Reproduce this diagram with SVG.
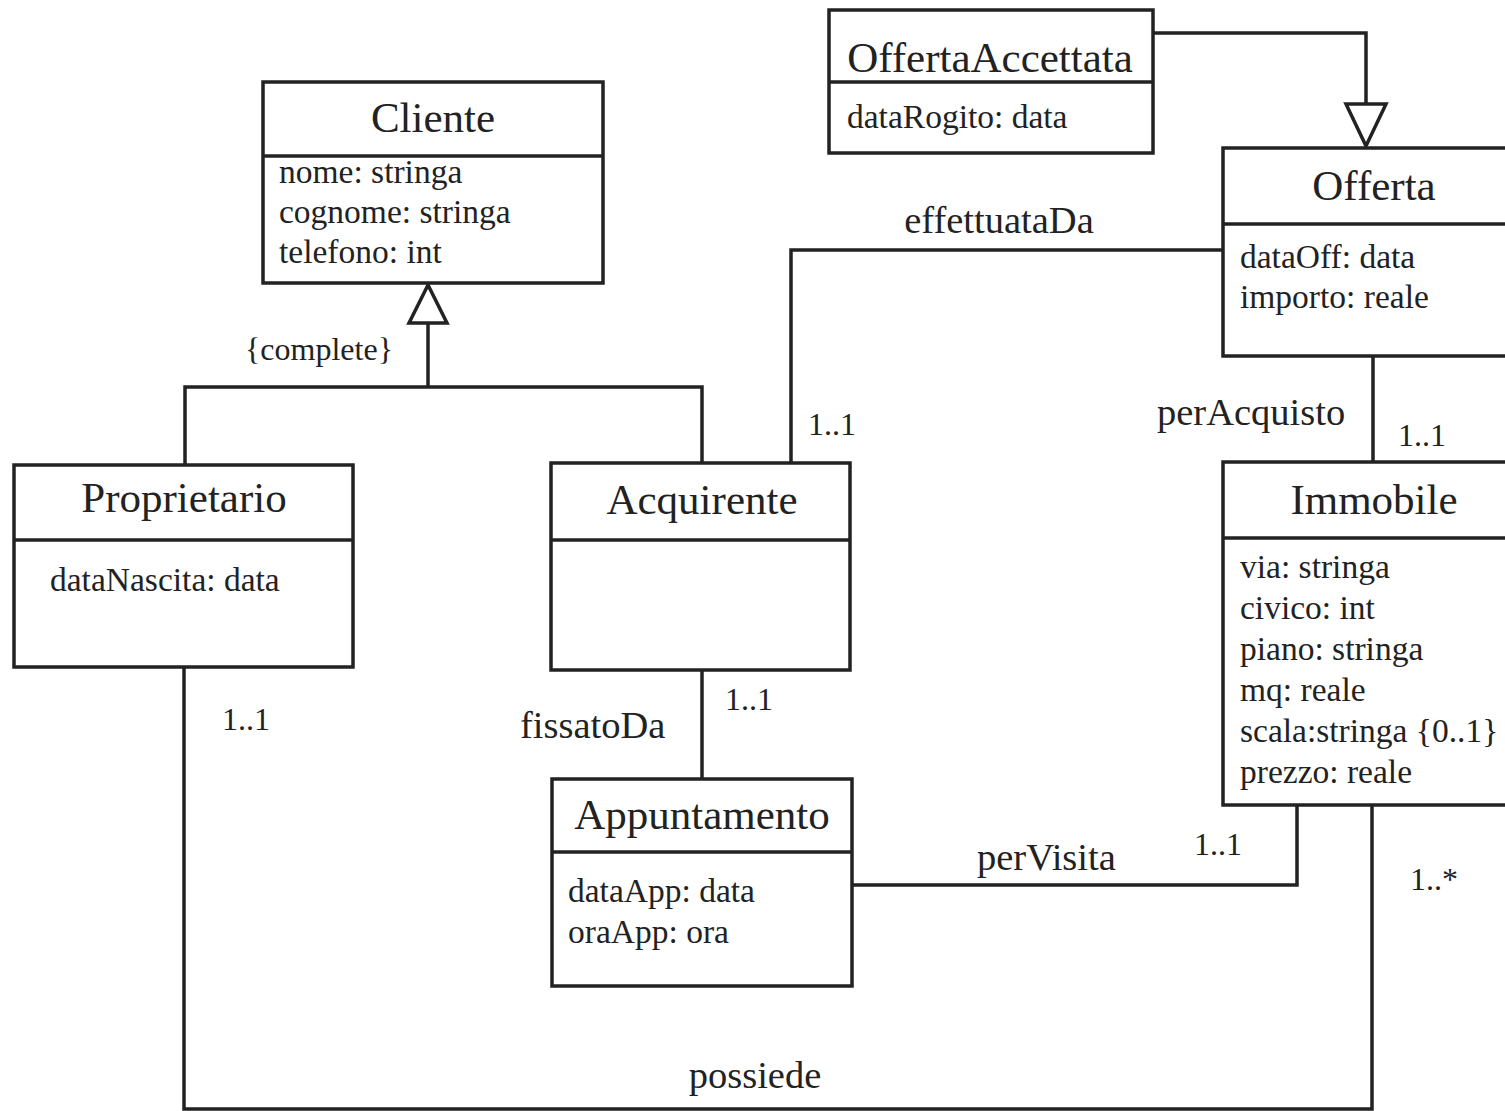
<svg xmlns="http://www.w3.org/2000/svg" width="1505" height="1111" viewBox="0 0 1505 1111">
<style>
.box{fill:#fff;stroke:#222;stroke-width:3.5}
.div{stroke:#222;stroke-width:3.5}
.ln{fill:none;stroke:#222;stroke-width:3.5}
.tri{fill:#fff;stroke:#222;stroke-width:3.5;stroke-linejoin:miter}
text{font-family:"Liberation Serif","Times New Roman",serif;fill:#222}
.t{font-size:43px;text-anchor:middle}
.a{font-size:33.5px}
.l{font-size:38.5px}
.m{font-size:32px}
</style>
<rect width="1505" height="1111" fill="#fff"/>
<g id="connectors">
<path class="ln" d="M428,323 V387 M185,465 V387 H702 V463"/>
<polygon class="tri" points="428,285 409,323 447,323"/>
<path class="ln" d="M1153,33 H1366 V103"/>
<polygon class="tri" points="1366,146 1346,104 1386,104"/>
<path class="ln" d="M791,463 V250 H1223"/>
<path class="ln" d="M1373,356 V462"/>
<path class="ln" d="M702,670 V779"/>
<path class="ln" d="M1297,805 V885 H852"/>
<path class="ln" d="M1372,805 V1109 H184 V667"/>
<text class="m" x="245" y="360">{complete}</text>
<text class="l" x="999" y="233" text-anchor="middle">effettuataDa</text>
<text class="m" x="808" y="435">1..1</text>
<text class="l" x="1157" y="425">perAcquisto</text>
<text class="m" x="1398" y="446">1..1</text>
<text class="l" x="520" y="738">fissatoDa</text>
<text class="m" x="725" y="710">1..1</text>
<text class="l" x="977" y="870">perVisita</text>
<text class="m" x="1194" y="855">1..1</text>
<text class="m" x="1410" y="890">1..*</text>
<text class="m" x="222" y="730">1..1</text>
<text class="l" x="755" y="1088" text-anchor="middle">possiede</text>
</g>
<g id="Cliente">
<rect class="box" x="263" y="82" width="340" height="201"/>
<line class="div" x1="263" y1="156" x2="603" y2="156"/>
<text class="t" x="433" y="132">Cliente</text>
<text class="a" x="279" y="183">nome: stringa</text>
<text class="a" x="279" y="223">cognome: stringa</text>
<text class="a" x="279" y="263">telefono: int</text>
</g>
<g id="Proprietario">
<rect class="box" x="14" y="465" width="339" height="202"/>
<line class="div" x1="14" y1="540" x2="353" y2="540"/>
<text class="t" x="184" y="512">Proprietario</text>
<text class="a" x="50" y="591">dataNascita: data</text>
</g>
<g id="Acquirente">
<rect class="box" x="551" y="463" width="299" height="207"/>
<line class="div" x1="551" y1="540" x2="850" y2="540"/>
<text class="t" x="702" y="514">Acquirente</text>
</g>
<g id="Appuntamento">
<rect class="box" x="552" y="779" width="300" height="207"/>
<line class="div" x1="552" y1="852" x2="852" y2="852"/>
<text class="t" x="702" y="829">Appuntamento</text>
<text class="a" x="568" y="902">dataApp: data</text>
<text class="a" x="568" y="943">oraApp: ora</text>
</g>
<g id="OffertaAccettata">
<rect class="box" x="829" y="10" width="324" height="143"/>
<line class="div" x1="829" y1="82" x2="1153" y2="82"/>
<text class="t" x="990" y="72">OffertaAccettata</text>
<text class="a" x="847" y="128">dataRogito: data</text>
</g>
<g id="Offerta">
<rect class="box" x="1223" y="148" width="300" height="208"/>
<line class="div" x1="1223" y1="224" x2="1523" y2="224"/>
<text class="t" x="1374" y="200">Offerta</text>
<text class="a" x="1240" y="268">dataOff: data</text>
<text class="a" x="1240" y="308">importo: reale</text>
</g>
<g id="Immobile">
<rect class="box" x="1223" y="462" width="300" height="343"/>
<line class="div" x1="1223" y1="538" x2="1523" y2="538"/>
<text class="t" x="1374" y="514">Immobile</text>
<text class="a" x="1240" y="578">via: stringa</text>
<text class="a" x="1240" y="619">civico: int</text>
<text class="a" x="1240" y="660">piano: stringa</text>
<text class="a" x="1240" y="701">mq: reale</text>
<text class="a" x="1240" y="742">scala:stringa {0..1}</text>
<text class="a" x="1240" y="783">prezzo: reale</text>
</g>
</svg>
